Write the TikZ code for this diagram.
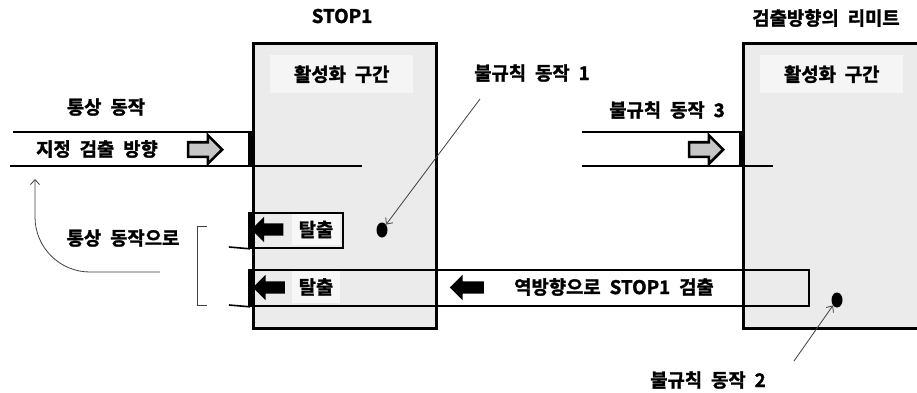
\documentclass[tikz,border=0pt]{standalone}
\usepackage{fontspec}
\newfontfamily\krfont{Noto Sans CJK KR}[BoldFont={Noto Sans CJK KR Bold}, BoldFeatures={FakeBold=1.6}, WordSpace=2.1]
\usepackage{tikz}
\usetikzlibrary{arrows.meta,shapes.arrows,shapes.geometric,positioning,calc}

\begin{document}
\begin{tikzpicture}[
    x=1pt, y=-1pt,
    >=Stealth,
    zone/.style={draw, line width=3pt, fill=black!8, minimum height=285pt, anchor=north west, inner sep=0pt},
    zonetag/.style={fill=black!4, minimum width=143pt, minimum height=38pt, anchor=north west, font=\krfont\bfseries\fontsize{18.8}{21}\selectfont},
    txt/.style={font=\krfont\bfseries\fontsize{18.8}{21}\selectfont, inner sep=0pt},
    chan/.style={line width=1.6pt},
    bar/.style={line width=4.5pt},
    lane/.style={draw, line width=1.8pt, anchor=north west, inner sep=0pt},
    passarrow/.style={single arrow, draw, fill=black!22, line width=2.6pt, inner sep=6pt, single arrow head extend=7pt, minimum height=34pt},
    backarrow/.style={single arrow, fill=black, shape border rotate=180, inner sep=6pt, single arrow head extend=6.5pt, minimum height=32pt},
    hitdot/.style={ellipse, fill=black, inner sep=0pt, minimum width=11pt, minimum height=15pt},
    pointer/.style={-{Straight Barb[length=5pt, width=9pt]}, draw=black!75, line width=0.8pt},
    bracketline/.style={draw=black!75, line width=0.8pt}
]

    \path[use as bounding box, fill=white] (0,0) rectangle (917,392);

    \node[zone, minimum width=183pt] (stop) at (252,42) {};
    \node[zone, minimum width=200pt] (limit) at (742,42) {};
    \node[zonetag] (stopTag) at (270,55) {활성화 구간};
    \node[zonetag] (limitTag) at (760,55) {활성화 구간};
    \node[txt] (stopName) at (342,16) {STOP1};
    \node[txt] (limitName) at (826,18) {검출방향의 리미트};

    \node[txt] (normal) at (106,107) {통상 동작};
    \node[txt] (normalDir) at (97,149) {지정 검출 방향};
    \node[passarrow] (normalArrow) at (201.5,149.5) {};
    \draw[chan] (13,132) -- (252,132);
    \draw[chan] (10,166) -- (362,166);
    \draw[bar] (250,132) -- (250,166);

    \node[txt] (irr3) at (667,110) {불규칙 동작 3};
    \node[passarrow] (irr3Arrow) at (702.5,149.5) {};
    \draw[chan] (582,132) -- (742,132);
    \draw[chan] (582,166) -- (773,166);
    \draw[bar] (741,132) -- (741,166);

    \node[lane, minimum width=92pt, minimum height=35pt] (esc1) at (250,212) {};
    \draw[chan] (229,247) -- (esc1.south west);
    \draw[bar] (esc1.north west) -- (esc1.south west);
    \node[backarrow] (esc1Arrow) at (270.5,229.5) {};
    \node[txt, fill=black!3, minimum width=48pt, minimum height=31pt] (esc1Text) at (316,229.5) {탈출};

    \node[lane, minimum width=558pt, minimum height=36pt] (rev) at (250,269) {};
    \draw[chan] (229,305) -- (rev.south west);
    \draw[bar] (rev.north west) -- (rev.south west);
    \node[backarrow] (esc2Arrow) at (272,287.5) {};
    \node[txt, fill=black!3, minimum width=48pt, minimum height=32pt] (esc2Text) at (316,287) {탈출};
    \node[backarrow, minimum height=34pt] (revArrow) at (470,287.5) {};
    \node[txt] (revText) at (614,287) {역방향으로 STOP1 검출};

    \node[hitdot] (dot1) at (382,230) {};
    \node[hitdot] (dot2) at (837,300) {};
    \node[txt] (irr1) at (532,73) {불규칙 동작 1};
    \node[txt] (irr2) at (708,380) {불규칙 동작 2};
    \draw[pointer] ($(irr1.south west)+(6,17)$) -- (dot1.north east);
    \draw[pointer] ($(irr2.north east)+(28,-10)$) -- (dot2.south west);

    \node[txt] (toNormal) at (123,238) {통상 동작으로};
    \draw[bracketline] (207,226) -- (197,226) -- (197,305) -- (207,305);
    \draw[pointer, rounded corners=55pt] (160,272) -- (35,272) -- (35,179);

\end{tikzpicture}
\end{document}
